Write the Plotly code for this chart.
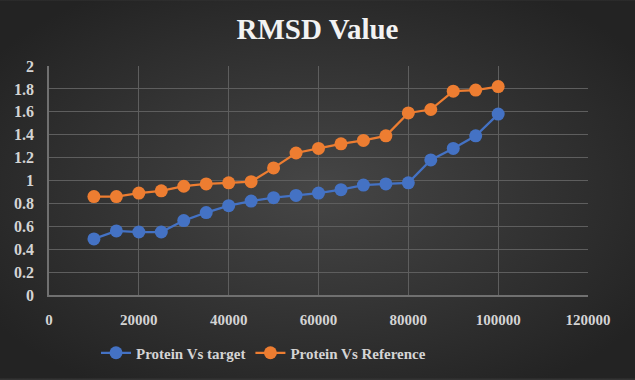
import base64
import plotly.graph_objects as go

x_values = [10000, 15000, 20000, 25000, 30000, 35000, 40000, 45000, 50000, 55000,
            60000, 65000, 70000, 75000, 80000, 85000, 90000, 95000, 100000]
protein_vs_target = [0.49, 0.56, 0.55, 0.55, 0.65, 0.72, 0.78, 0.82, 0.85, 0.87,
                     0.89, 0.92, 0.96, 0.97, 0.98, 1.18, 1.28, 1.39, 1.58]
protein_vs_reference = [0.86, 0.86, 0.89, 0.91, 0.95, 0.97, 0.98, 0.99, 1.11, 1.24,
                        1.28, 1.32, 1.35, 1.39, 1.59, 1.62, 1.78, 1.79, 1.82]
series_names = ["Protein Vs target", "Protein Vs Reference"]
title_text = "RMSD Value"

W, H = 635, 380
ML, MR, MT, MB = 49, 47, 66, 84
PW, PH = W - ML - MR, H - MT - MB

svg = """<svg xmlns='http://www.w3.org/2000/svg' width='635' height='380'>
<defs><radialGradient id='g' cx='50%' cy='50%' r='62%'>
<stop offset='0%' stop-color='#464646'/>
<stop offset='100%' stop-color='#232323'/>
</radialGradient></defs>
<rect width='635' height='380' fill='url(#g)'/></svg>"""
bg_src = "data:image/svg+xml;base64," + base64.b64encode(svg.encode()).decode()

font_family = "Liberation Serif"

fig = go.Figure()
fig.add_trace(go.Scatter(
    x=x_values, y=protein_vs_target, name="<b>" + series_names[0] + "</b>",
    mode="lines+markers",
    line=dict(color="#4472C4", width=2.25),
    marker=dict(color="#4472C4", size=13)))
fig.add_trace(go.Scatter(
    x=x_values, y=protein_vs_reference, name="<b>" + series_names[1] + "</b>",
    mode="lines+markers",
    line=dict(color="#ED7D31", width=2.25),
    marker=dict(color="#ED7D31", size=13)))

fig.update_layout(
    width=W, height=H,
    margin=dict(l=ML, r=MR, t=MT, b=MB, pad=0),
    paper_bgcolor="#333333",
    plot_bgcolor="rgba(0,0,0,0)",
    font=dict(family=font_family),
    images=[dict(source=bg_src, xref="paper", yref="paper",
                 x=-ML / PW, y=1 + MT / PH, sizex=W / PW, sizey=H / PH,
                 xanchor="left", yanchor="top", sizing="stretch", layer="below")],
    title=dict(text="<b>" + title_text + "</b>",
               x=0.5, xanchor="center", y=1 - 29 / H, yanchor="middle",
               font=dict(family=font_family, size=29, color="#f2f2f2")),
    xaxis=dict(range=[0, 120000], dtick=20000, tickformat="d",
               showgrid=True, gridcolor="#5e5e5e", gridwidth=1,
               zeroline=False, showline=True, linecolor="#707070", linewidth=1.5,
               ticks="", ticklabelstandoff=10,
               tickprefix="<b>", ticksuffix="</b>",
               tickfont=dict(family=font_family, size=15, color="#d4d4d4")),
    yaxis=dict(range=[0, 2], dtick=0.2, tickformat="~g",
               showgrid=True, gridcolor="#5e5e5e", gridwidth=1,
               zeroline=False, showline=True, linecolor="#707070", linewidth=1.5,
               ticks="", ticklabelstandoff=10,
               tickprefix="<b>", ticksuffix="</b>",
               tickfont=dict(family=font_family, size=16, color="#d4d4d4")),
    legend=dict(orientation="h", x=(96 - ML) / PW, xanchor="left",
                y=-57 / PH, yanchor="middle",
                font=dict(family=font_family, size=15, color="#d4d4d4"),
                bgcolor="rgba(0,0,0,0)"),
    showlegend=True,
)

fig.write_html("out.html", config={"displayModeBar": False},
               post_script="document.body.style.margin='0';document.body.style.overflow='hidden';")
